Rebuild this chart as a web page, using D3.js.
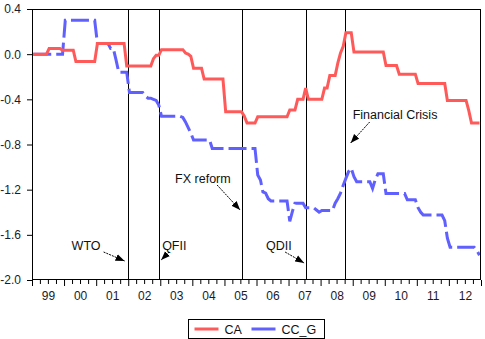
<!DOCTYPE html>
<html>
<head>
<meta charset="utf-8">
<script src="https://cdn.jsdelivr.net/npm/d3@7"></script>
<style>
  html, body { margin: 0; padding: 0; background: #fff; }
  svg { display: block; font-family: "Liberation Sans", Arial, sans-serif; }
</style>
</head>
<body>
<svg id="chart" width="485" height="339"></svg>
<script>
// Monthly observations, 1999M01 .. 2012M12 (one row per year)
const startYear = 1999;
const endYear = 2012;

const caValues = [
  0.00, 0.00, 0.00, 0.00, 0.00, 0.00, 0.05, 0.05, 0.05, 0.05, 0.05, 0.035,      // 1999
  0.035, 0.035, 0.035, 0.035, -0.065, -0.065, -0.065, -0.065, -0.065, -0.065, -0.065, -0.065, // 2000
  0.095, 0.095, 0.095, 0.095, 0.095, 0.095, 0.095, 0.095, 0.095, 0.095, 0.095, -0.105, // 2001
  -0.105, -0.105, -0.105, -0.105, -0.105, -0.105, -0.105, -0.105, -0.105, -0.04, -0.01, -0.01, // 2002
  0.04, 0.04, 0.04, 0.04, 0.04, 0.04, 0.04, 0.04, 0.04, 0.01, 0.00, -0.02,       // 2003
  -0.125, -0.125, -0.125, -0.125, -0.22, -0.22, -0.22, -0.22, -0.22, -0.22, -0.22, -0.22, // 2004
  -0.51, -0.51, -0.51, -0.51, -0.51, -0.51, -0.51, -0.55, -0.61, -0.61, -0.61, -0.61, // 2005
  -0.555, -0.555, -0.555, -0.555, -0.555, -0.555, -0.555, -0.555, -0.555, -0.555, -0.555, -0.555, // 2006
  -0.495, -0.495, -0.495, -0.40, -0.40, -0.40, -0.30, -0.40, -0.40, -0.40, -0.40, -0.40, // 2007
  -0.40, -0.30, -0.30, -0.19, -0.19, -0.19, -0.08, 0.01, 0.07, 0.19, 0.19, 0.19,  // 2008
  0.02, 0.02, 0.02, 0.02, 0.02, 0.02, 0.02, 0.02, 0.02, 0.02, 0.02, 0.02,        // 2009
  -0.10, -0.10, -0.10, -0.10, -0.10, -0.177, -0.177, -0.177, -0.177, -0.177, -0.177, -0.177, // 2010
  -0.26, -0.26, -0.26, -0.26, -0.26, -0.26, -0.26, -0.26, -0.26, -0.26, -0.26, -0.41, // 2011
  -0.41, -0.41, -0.41, -0.41, -0.41, -0.41, -0.41, -0.50, -0.61, -0.61, -0.61, -0.61  // 2012
];

const ccgValues = [
  0.00, 0.00, 0.00, 0.00, 0.00, 0.00, 0.00, 0.00, 0.00, 0.00, 0.00, 0.00,        // 1999
  0.30, 0.30, 0.30, 0.30, 0.30, 0.30, 0.30, 0.30, 0.30, 0.30, 0.30, 0.30,        // 2000
  0.095, 0.095, 0.095, 0.095, 0.095, 0.05, 0.05, -0.05, -0.16, -0.16, -0.16, -0.16, // 2001
  -0.34, -0.34, -0.34, -0.34, -0.34, -0.34, -0.37, -0.39, -0.39, -0.40, -0.41, -0.45, // 2002
  -0.55, -0.55, -0.55, -0.55, -0.55, -0.55, -0.55, -0.55, -0.56, -0.60, -0.65, -0.70, // 2003
  -0.76, -0.76, -0.76, -0.76, -0.76, -0.76, -0.76, -0.835, -0.835, -0.835, -0.835, -0.835, // 2004
  -0.835, -0.835, -0.835, -0.835, -0.835, -0.835, -0.835, -0.835, -0.835, -0.835, -0.835, -0.835, // 2005
  -1.07, -1.115, -1.22, -1.23, -1.28, -1.30, -1.30, -1.30, -1.30, -1.30, -1.30, -1.30, // 2006
  -1.48, -1.39, -1.32, -1.32, -1.32, -1.32, -1.36, -1.36, -1.36, -1.36, -1.38, -1.40, // 2007
  -1.385, -1.385, -1.385, -1.385, -1.385, -1.32, -1.28, -1.23, -1.16, -1.10, -1.04, -1.01, // 2008
  -1.085, -1.13, -1.13, -1.13, -1.13, -1.13, -1.13, -1.19, -1.11, -1.06, -1.06, -1.06, // 2009
  -1.235, -1.235, -1.235, -1.235, -1.235, -1.235, -1.235, -1.235, -1.29, -1.29, -1.29, -1.29, // 2010
  -1.36, -1.40, -1.425, -1.425, -1.425, -1.425, -1.425, -1.425, -1.425, -1.425, -1.475, -1.63, // 2011
  -1.71, -1.71, -1.71, -1.71, -1.71, -1.71, -1.71, -1.71, -1.71, -1.71, -1.74, -1.78  // 2012
];

const seriesNames = ["CA", "CC_G"];
const seriesColors = ["#ff5a5a", "#6060ff"];

const yTicks = [0.4, 0.0, -0.4, -0.8, -1.2, -1.6, -2.0];
const yDomain = [-2.0, 0.4];

// Policy events marked with vertical rules
const eventNames = ["WTO", "QFII", "FX reform", "QDII", "Financial Crisis"];
const eventDates = ["2001-12-25", "2002-12-19", "2005-07-21", "2007-07-20", "2008-10-01"];

// Annotation layout, offsets relative to each event rule:
// text start dx / baseline y, arrow tail dx / y, arrow head dx / y
const noteLayout = [
  { tx: -56, ty: 249.5, ax: -24, ay: 252, bx: -3, by: 261 },
  { tx: 3,   ty: 249.5, ax: 10,  ay: 252, bx: 2,  by: 260 },
  { tx: -67, ty: 183,   ax: -25, ay: 185, bx: -2, by: 210 },
  { tx: -40, ty: 249.5, ax: -21, ay: 252, bx: -2, by: 263 },
  { tx: 8,   ty: 119,   ax: 25,  ay: 122, bx: 6,  by: 143 }
];

const W = 485, H = 339;
const margin = { left: 32, right: 4, top: 9, bottom: 59 };
const plotW = W - margin.left - margin.right;
const plotH = H - margin.top - margin.bottom;

const svg = d3.select("#chart");
const parse = d3.timeParse("%Y-%m-%d");

const x = d3.scaleTime()
  .domain([new Date(startYear, 0, 1), new Date(endYear + 1, 0, 1)])
  .range([margin.left, margin.left + plotW]);
const y = d3.scaleLinear()
  .domain(yDomain)
  .range([margin.top + plotH, margin.top]);

const monthDate = i => new Date(startYear, i, 15);

// clip
svg.append("defs").append("clipPath").attr("id", "plotClip")
  .append("rect")
  .attr("x", margin.left).attr("y", margin.top)
  .attr("width", plotW).attr("height", plotH);

svg.select("defs").append("marker")
  .attr("id", "arrowHead")
  .attr("viewBox", "0 -4 9 8")
  .attr("refX", 9).attr("refY", 0)
  .attr("markerWidth", 9).attr("markerHeight", 8)
  .attr("markerUnits", "userSpaceOnUse")
  .attr("orient", "auto")
  .append("path").attr("d", "M0,-3.5L9,0L0,3.5Z").attr("fill", "#000");

// Y axis
const yAxis = d3.axisLeft(y)
  .tickValues(yTicks)
  .tickSize(5)
  .tickPadding(6)
  .tickFormat(d => d.toFixed(1));
const gy = svg.append("g")
  .attr("transform", `translate(${margin.left},0)`)
  .call(yAxis);
gy.select(".domain").remove();
gy.selectAll("line").attr("stroke", "#000");
gy.selectAll("text").attr("font-size", 12).attr("fill", "#1a1a2a")
  .attr("font-family", "'Liberation Sans', Arial, sans-serif");

// X axis: quarterly minor ticks, yearly major ticks
const quarters = d3.timeMonth.every(3).range(new Date(startYear, 0, 1), new Date(endYear + 1, 0, 2));
const gx = svg.append("g")
  .attr("transform", `translate(0,${margin.top + plotH})`)
  .call(d3.axisBottom(x).tickValues(quarters).tickFormat(""));
gx.select(".domain").remove();
gx.selectAll(".tick line")
  .attr("stroke", "#000")
  .attr("y2", d => d.getMonth() === 0 ? 6 : 4);

const midYears = d3.range(startYear, endYear + 1).map(yr => new Date(yr, 6, 2));
const gxl = svg.append("g")
  .attr("transform", `translate(0,${margin.top + plotH})`)
  .call(d3.axisBottom(x).tickValues(midYears).tickSize(0).tickPadding(11)
    .tickFormat(d3.timeFormat("%y")));
gxl.select(".domain").remove();
gxl.selectAll("text").attr("font-size", 12).attr("fill", "#1a1a2a")
  .attr("font-family", "'Liberation Sans', Arial, sans-serif");

// Event rules
const events = eventNames.map((name, i) => ({ name, date: parse(eventDates[i]), lay: noteLayout[i] }));
svg.append("g").selectAll("line").data(events).join("line")
  .attr("x1", d => Math.round(x(d.date)) + 0.5)
  .attr("x2", d => Math.round(x(d.date)) + 0.5)
  .attr("y1", margin.top).attr("y2", margin.top + plotH)
  .attr("stroke", "#000").attr("stroke-width", 1);

// Series lines
const line = d3.line()
  .x((d, i) => x(monthDate(i)))
  .y(d => y(d));
const gLines = svg.append("g").attr("clip-path", "url(#plotClip)");
gLines.append("path")
  .datum(ccgValues)
  .attr("d", line)
  .attr("fill", "none")
  .attr("stroke", seriesColors[1])
  .attr("stroke-width", 3)
  .attr("stroke-dasharray", "18,5");
gLines.append("path")
  .datum(caValues)
  .attr("d", line)
  .attr("fill", "none")
  .attr("stroke", seriesColors[0])
  .attr("stroke-width", 3);

// Plot frame
svg.append("rect")
  .attr("x", margin.left + 0.5).attr("y", margin.top + 0.5)
  .attr("width", plotW - 1).attr("height", plotH - 1)
  .attr("fill", "none").attr("stroke", "#000").attr("stroke-width", 1);

// Event annotations
const notes = svg.append("g");
events.forEach(ev => {
  const ex = x(ev.date);
  const L = ev.lay;
  notes.append("text")
    .attr("x", ex + L.tx).attr("y", L.ty)
    .attr("font-size", 12.5).attr("fill", "#111")
    .text(ev.name);
  notes.append("line")
    .attr("x1", ex + L.ax).attr("y1", L.ay)
    .attr("x2", ex + L.bx).attr("y2", L.by)
    .attr("stroke", "#000").attr("stroke-width", 1)
    .attr("stroke-dasharray", "2,1")
    .attr("marker-end", "url(#arrowHead)");
});

// Legend
const leg = svg.append("g").attr("transform", "translate(188.5,319.5)");
leg.append("rect").attr("width", 136).attr("height", 19)
  .attr("fill", "#fff").attr("stroke", "#000");
const legItems = seriesNames.map((n, i) => ({ n, c: seriesColors[i], dash: i === 1 }));
const legX = [6, 63];
legItems.forEach((it, i) => {
  leg.append("line")
    .attr("x1", legX[i]).attr("x2", legX[i] + 24)
    .attr("y1", 9.5).attr("y2", 9.5)
    .attr("stroke", it.c).attr("stroke-width", 3);
  leg.append("text")
    .attr("x", legX[i] + 30).attr("y", 14.5)
    .attr("font-size", 12.5).attr("fill", "#111")
    .text(it.n);
});
</script>
</body>
</html>
